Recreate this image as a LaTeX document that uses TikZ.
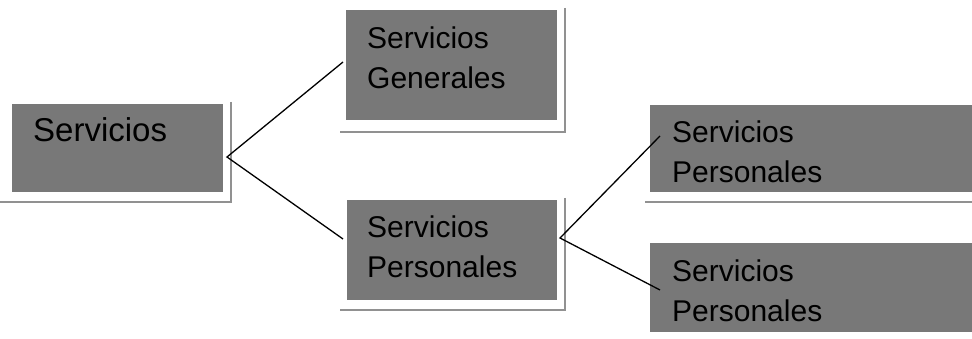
\documentclass[tikz,border=0pt]{standalone}
\usepackage{fontspec}
\setmainfont{Liberation Sans}
\definecolor{boxgray}{RGB}{120,120,120}
\definecolor{shadowgray}{RGB}{145,145,145}
\tikzset{
  box/.style={draw=none, fill=boxgray, rectangle, anchor=north west, inner sep=0pt},
  shadowline/.style={draw=shadowgray, line width=2pt},
  boxtext/.style={anchor=north west, inner sep=0pt, align=left, text=black, font=\fontsize{30}{40}\selectfont},
  link/.style={draw=black, line width=1.3pt}
}
\begin{document}
\begin{tikzpicture}[x=1pt, y=-1pt]
\useasboundingbox (0,0) rectangle (972,339);
% boxes
\node[box, minimum width=211pt, minimum height=88pt] (b1) at (12,104) {};
\node[box, minimum width=211pt, minimum height=110pt] (b2) at (346,10) {};
\node[box, minimum width=210pt, minimum height=100pt] (b3) at (347,200) {};
\node[box, minimum width=322pt, minimum height=87pt] (b4) at (650,105) {};
\node[box, minimum width=322pt, minimum height=89pt] (b5) at (650,243) {};
% shadow lines
\draw[shadowline] (231,102) -- (231,202) -- (0,202);
\draw[shadowline] (565,8) -- (565,132) -- (340,132);
\draw[shadowline] (565,198) -- (565,310) -- (340,310);
\draw[shadowline] (645,202) -- (972,202);
% texts
\node[boxtext, font=\fontsize{33}{40}\selectfont] (t1) at (33,117) {Servicios};
\node[boxtext] (t2) at (367,27) {Servicios\\Generales};
\node[boxtext] (t3) at (367,216) {Servicios\\Personales};
\node[boxtext] (t4) at (672,121) {Servicios\\Personales};
\node[boxtext] (t5) at (672,260) {Servicios\\Personales};
% connectors
\coordinate (j1) at (227,157);
\coordinate (e2) at (343,62);
\coordinate (e3) at (343,239);
\coordinate (j2) at (560,238);
\coordinate (e4) at (660,136);
\coordinate (e5) at (660,290);
\draw[link] (e2) -- (j1) -- (e3);
\draw[link] (e4) -- (j2) -- (e5);
\end{tikzpicture}
\end{document}
